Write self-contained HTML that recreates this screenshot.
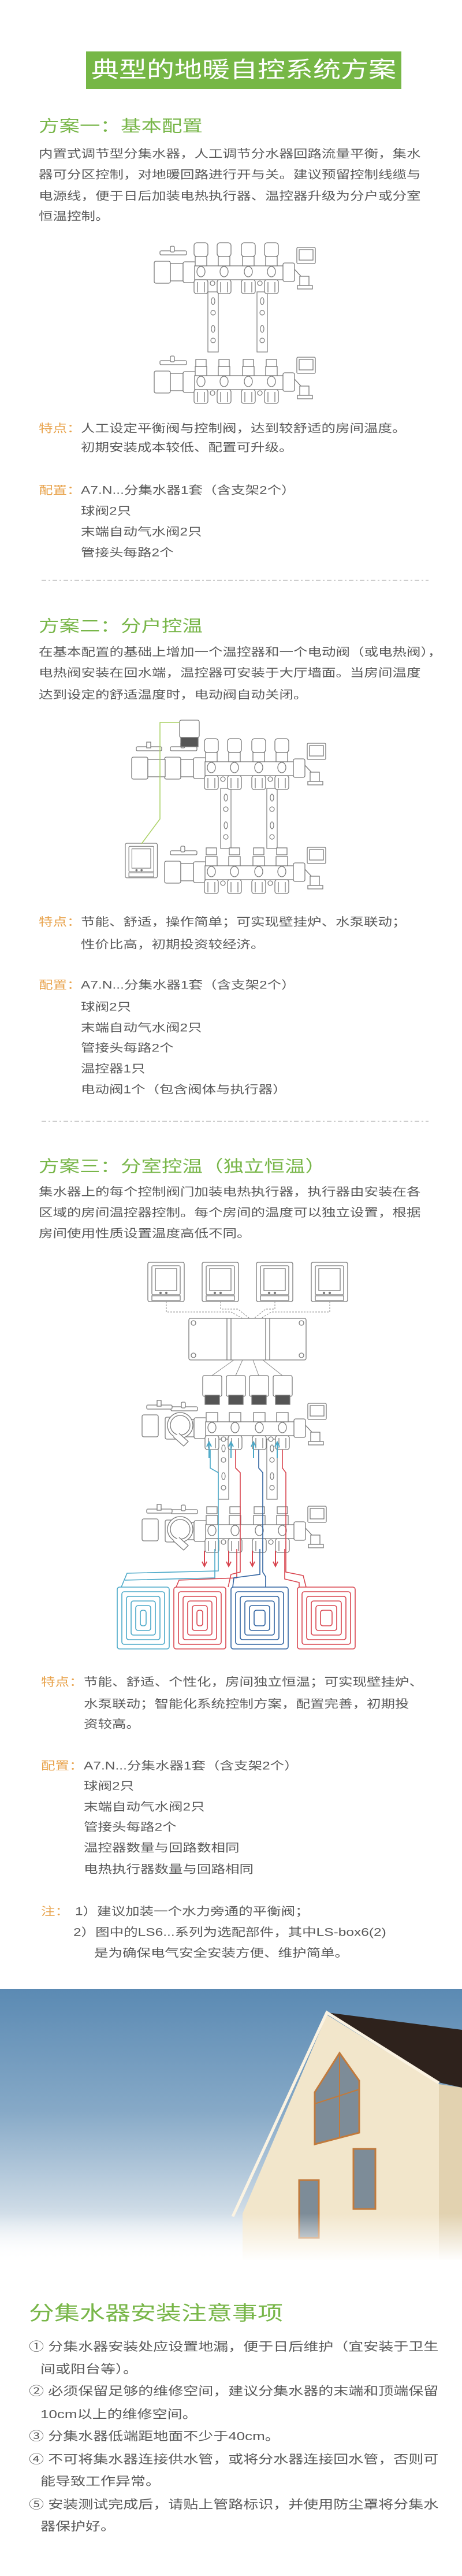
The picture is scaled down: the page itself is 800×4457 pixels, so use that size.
<!DOCTYPE html>
<html><head><meta charset="utf-8"><style>
*{margin:0;padding:0}
body{width:800px;height:4457px;background:#fff;position:relative;overflow:hidden;font-family:"Liberation Sans","Noto Sans CJK SC",sans-serif}
.t{position:absolute;font-size:24.5px;line-height:24px;height:24px;color:#595959;white-space:nowrap;transform:scaleY(.78);transform-origin:0 50%}
.h{position:absolute;font-size:35.5px;line-height:36px;height:36px;color:#78b649;white-space:nowrap;transform:scaleY(.78);transform-origin:0 50%}
.o{color:#e8a24a}
.n{position:absolute;font-size:26px;line-height:26px;height:26px;color:#595959;white-space:nowrap;transform:scaleY(.78);transform-origin:0 50%}
svg{position:absolute;left:0;top:0}
</style></head><body>
<svg width="800" height="4457" viewBox="0 0 800 4457">
<defs>
<g id="mb" fill="#fff" stroke="#7a7a7a" stroke-width="1.3">
 <rect x="10" y="14" width="46" height="7" rx="2"/>
 <rect x="28" y="6" width="7" height="10" rx="2"/>
 <rect x="0" y="32" width="28" height="38" rx="3"/>
 <rect x="28" y="36" width="22" height="30"/>
 <rect x="50" y="33" width="22" height="36" rx="3"/>
 <rect x="70" y="40" width="155" height="24"/>
 <rect x="223" y="35" width="20" height="32" rx="3"/>
 <path d="M243 46 L256 60 L256 74"/>
 <rect x="247" y="8" width="32" height="28" rx="2"/>
 <rect x="251" y="12" width="24" height="18"/>
 <rect x="252" y="58" width="16" height="16"/>
 <rect x="248" y="74" width="26" height="6"/>
 <g id="ol">
  <rect x="71" y="24" width="20" height="16"/>
  <ellipse cx="81" cy="50" rx="7" ry="9"/>
  <rect x="69" y="64" width="24" height="24" rx="4"/>
  <line x1="75" y1="68" x2="75" y2="86"/><line x1="87" y1="68" x2="87" y2="86"/>
 </g>
 <use href="#ol" x="40"/><use href="#ol" x="82"/><use href="#ol" x="122"/>
 <circle cx="101" cy="70" r="4"/><circle cx="183" cy="70" r="4"/>
</g>
<g id="caps" fill="#fff" stroke="#7a7a7a" stroke-width="1.3">
 <rect x="69" y="0" width="24" height="24" rx="5"/><rect x="109" y="0" width="24" height="24" rx="5"/>
 <rect x="151" y="0" width="24" height="24" rx="5"/><rect x="191" y="0" width="24" height="24" rx="5"/>
</g>
<g id="nuts" fill="#fff" stroke="#7a7a7a" stroke-width="1.3">
 <rect x="72" y="12" width="18" height="12"/><rect x="112" y="12" width="18" height="12"/>
 <rect x="154" y="12" width="18" height="12"/><rect x="194" y="12" width="18" height="12"/>
</g>
<g id="th" fill="#fff" stroke="#7a7a7a" stroke-width="1.3">
 <rect x="0" y="0" width="63" height="68" rx="3"/>
 <rect x="7" y="6" width="49" height="50" rx="2"/>
 <rect x="13" y="11" width="37" height="38"/>
 <rect x="7" y="58" width="49" height="8"/>
 <circle cx="22" cy="53" r="1.5" fill="#777"/><circle cx="32" cy="53" r="1.5" fill="#777"/>
</g>
<g id="br" fill="#fff" stroke="#7a7a7a" stroke-width="1.2">
 <rect x="0" y="0" width="18" height="104"/>
 <ellipse cx="9" cy="16" rx="3" ry="6"/><circle cx="9" cy="36" r="4"/>
 <ellipse cx="9" cy="64" rx="3" ry="6"/><circle cx="9" cy="84" r="4"/>
</g>
</defs>
<rect x="149" y="89" width="546" height="65" fill="#76b746"/>

<!-- diagram 1 -->
<use href="#br" x="360" y="505"/><use href="#br" x="445" y="505"/>
<use href="#mb" x="267" y="420"/><use href="#caps" x="267" y="420"/>
<use href="#mb" x="267" y="610"/><use href="#nuts" x="267" y="610"/>

<!-- diagram 2 -->
<use href="#br" x="382" y="1364"/><use href="#br" x="462" y="1364"/>
<use href="#mb" x="285" y="1278"/><use href="#caps" x="285" y="1278"/>
<g fill="#fff" stroke="#7a7a7a" stroke-width="1.3">
 <rect x="236" y="1292" width="44" height="7" rx="2"/><rect x="254" y="1284" width="7" height="10"/>
 <rect x="228" y="1310" width="28" height="38" rx="3"/><rect x="256" y="1314" width="30" height="30"/>
 <rect x="311" y="1246" width="34" height="30" rx="3"/>
 <rect x="313" y="1276" width="30" height="16" fill="#555"/>
</g>
<use href="#mb" x="285" y="1458"/><use href="#nuts" x="285" y="1455"/>
<use href="#th" x="217" y="1459" transform="translate(217,1459) scale(.88) translate(-217,-1459)"/>
<polyline points="245,1460 277,1417 277,1250 311,1250" fill="none" stroke="#a9d062" stroke-width="1.5"/>

<!-- diagram 3 -->
<use href="#th" x="256" y="2184"/><use href="#th" x="350" y="2184"/><use href="#th" x="444" y="2184"/><use href="#th" x="539" y="2184"/>
<g fill="none" stroke="#888" stroke-width="1" stroke-dasharray="3 2">
 <polyline points="288,2252 288,2270 400,2270 420,2281"/>
 <polyline points="382,2252 382,2265 412,2265 432,2281"/>
 <polyline points="476,2252 476,2265 460,2265 440,2281"/>
 <polyline points="571,2252 571,2270 470,2270 452,2281"/>
</g>
<g fill="#fff" stroke="#7a7a7a" stroke-width="1.3">
 <rect x="327" y="2281" width="203" height="72" rx="3"/>
 <line x1="393" y1="2281" x2="393" y2="2353"/><line x1="400" y1="2281" x2="400" y2="2353"/>
 <line x1="460" y1="2281" x2="460" y2="2353"/><line x1="467" y1="2281" x2="467" y2="2353"/>
 <circle cx="335" cy="2289" r="4"/><circle cx="522" cy="2289" r="4"/><circle cx="335" cy="2345" r="4"/><circle cx="522" cy="2345" r="4"/>
</g>
<g stroke="#888" stroke-width="1">
 <line x1="405" y1="2353" x2="367" y2="2380"/><line x1="420" y1="2353" x2="408" y2="2380"/>
 <line x1="438" y1="2353" x2="448" y2="2380"/><line x1="455" y1="2353" x2="489" y2="2380"/>
</g>
<use href="#br" x="378" y="2490"/><use href="#br" x="462" y="2490"/>
<use href="#mb" x="286" y="2420"/>
<g fill="#fff" stroke="#7a7a7a" stroke-width="1.3">
 <rect x="351" y="2380" width="33" height="36" rx="3"/><rect x="392" y="2380" width="33" height="36" rx="3"/>
 <rect x="432" y="2380" width="33" height="36" rx="3"/><rect x="473" y="2380" width="33" height="36" rx="3"/>
 <rect x="355" y="2414" width="25" height="16" fill="#555"/><rect x="396" y="2414" width="25" height="16" fill="#555"/>
 <rect x="436" y="2414" width="25" height="16" fill="#555"/><rect x="477" y="2414" width="25" height="16" fill="#555"/>
 <rect x="254" y="2431" width="44" height="7" rx="2"/><rect x="272" y="2423" width="7" height="10"/>
 <rect x="246" y="2448" width="28" height="38" rx="3"/>
 <circle cx="312" cy="2466" r="22"/><circle cx="312" cy="2466" r="17"/>
 <path d="M300 2486 L318 2502 L326 2494 L310 2480"/>
</g>
<use href="#mb" x="286" y="2598"/><use href="#nuts" x="286" y="2595"/>
<g fill="#fff" stroke="#7a7a7a" stroke-width="1.3">
 <rect x="254" y="2611" width="44" height="7" rx="2"/><rect x="272" y="2603" width="7" height="10"/>
 <rect x="246" y="2628" width="28" height="38" rx="3"/>
 <circle cx="312" cy="2646" r="22"/><circle cx="312" cy="2646" r="17"/>
 <path d="M300 2666 L318 2682 L326 2674 L310 2660"/>
</g>
<!-- pipes -->
<g fill="none" stroke-width="1.6">
 <polyline stroke="#4aa8c8" points="364,2508 364,2540 378,2548 378,2718 220,2722 210,2746"/>
 <polyline stroke="#4aa8c8" points="372,2680 372,2730 216,2734"/>
 <polyline stroke="#d8454f" points="408,2508 408,2540 416,2548 416,2720 400,2724 395,2746"/>
 <polyline stroke="#d8454f" points="410,2680 410,2730 310,2734 305,2746"/>
 <polyline stroke="#2f62a0" points="448,2508 448,2540 455,2548 455,2720 460,2728 460,2746"/>
 <polyline stroke="#2f62a0" points="450,2680 450,2724 405,2730 403,2746"/>
 <polyline stroke="#d8454f" points="489,2508 489,2540 495,2548 495,2720 525,2726 530,2746"/>
 <polyline stroke="#d8454f" points="493,2680 493,2732 518,2738 518,2746"/>
</g>
<g stroke-width="2" fill="none">
 <g stroke="#4aa8c8"><line x1="362" y1="2523" x2="362" y2="2497"/><path d="M358 2503 L362 2495 L366 2503"/>
 <line x1="400" y1="2523" x2="400" y2="2497"/><path d="M396 2503 L400 2495 L404 2503"/>
 <line x1="439" y1="2523" x2="439" y2="2497"/><path d="M435 2503 L439 2495 L443 2503"/>
 <line x1="480" y1="2523" x2="480" y2="2497"/><path d="M476 2503 L480 2495 L484 2503"/></g>
 <g stroke="#d8454f"><line x1="354" y1="2683" x2="354" y2="2708"/><path d="M350 2702 L354 2710 L358 2702"/>
 <line x1="396" y1="2683" x2="396" y2="2708"/><path d="M392 2702 L396 2710 L400 2702"/>
 <line x1="437" y1="2683" x2="437" y2="2708"/><path d="M433 2702 L437 2710 L441 2702"/>
 <line x1="477" y1="2683" x2="477" y2="2708"/><path d="M473 2702 L477 2710 L481 2702"/></g>
</g>
<!-- loops -->
<g fill="none" stroke-width="1.6">
 <g stroke="#4aa8c8"><rect x="203" y="2746" width="90" height="107" rx="4"/><rect x="211" y="2754" width="74" height="91" rx="4"/><rect x="219" y="2762" width="58" height="75" rx="4"/><rect x="227" y="2770" width="42" height="59" rx="4"/><rect x="235" y="2778" width="26" height="43" rx="4"/><rect x="243" y="2786" width="10" height="27" rx="4"/></g>
 <g stroke="#d8454f"><rect x="301" y="2746" width="90" height="107" rx="4"/><rect x="309" y="2754" width="74" height="91" rx="4"/><rect x="317" y="2762" width="58" height="75" rx="4"/><rect x="325" y="2770" width="42" height="59" rx="4"/><rect x="333" y="2778" width="26" height="43" rx="4"/><rect x="341" y="2786" width="10" height="27" rx="4"/></g>
 <g stroke="#2f62a0"><rect x="400" y="2746" width="99" height="107" rx="4"/><rect x="408" y="2754" width="83" height="91" rx="4"/><rect x="416" y="2762" width="67" height="75" rx="4"/><rect x="424" y="2770" width="51" height="59" rx="4"/><rect x="432" y="2778" width="35" height="43" rx="4"/><rect x="440" y="2786" width="19" height="27" rx="4"/></g>
 <g stroke="#d8454f"><rect x="515" y="2746" width="100" height="107" rx="4"/><rect x="523" y="2754" width="84" height="91" rx="4"/><rect x="531" y="2762" width="68" height="75" rx="4"/><rect x="539" y="2770" width="52" height="59" rx="4"/><rect x="547" y="2778" width="36" height="43" rx="4"/><rect x="555" y="2786" width="20" height="27" rx="4"/></g>
</g>

<!-- separators -->
<line x1="72" y1="1004" x2="742" y2="1004" stroke="#bdbdbd" stroke-width="1.5" stroke-dasharray="8 4 3 4"/>
<line x1="72" y1="1940" x2="742" y2="1940" stroke="#bdbdbd" stroke-width="1.5" stroke-dasharray="8 4 3 4"/>

<!-- photo -->
<defs>
<linearGradient id="sky" x1="0" y1="0" x2="0" y2="1">
 <stop offset="0" stop-color="#5b8ab3"/><stop offset=".45" stop-color="#86a9c7"/><stop offset=".8" stop-color="#cbd9e5"/><stop offset="1" stop-color="#ffffff"/>
</linearGradient>
<linearGradient id="fade" x1="0" y1="0" x2="0" y2="1">
 <stop offset="0" stop-color="#fff" stop-opacity="0"/><stop offset="1" stop-color="#fff" stop-opacity="1"/>
</linearGradient>
</defs>
<rect x="0" y="3441" width="800" height="470" fill="url(#sky)"/>
<polygon points="566,3482 800,3512 800,3612 760,3603" fill="#2e221c"/>
<polygon points="566,3486 760,3606 760,3911 420,3911 420,3830" fill="#f2e6cb"/>
<polygon points="760,3606 800,3612 800,3911 760,3911" fill="#e2d2b0"/>
<polyline points="403,3835 566,3482 760,3604" fill="none" stroke="#fbf3e2" stroke-width="5"/>
<g fill="#7d8c98" stroke="#c17a3c" stroke-width="3">
 <polygon points="545,3710 545,3620 588,3552 622,3600 622,3690"/>
 <rect x="612" y="3718" width="38" height="104"/>
 <rect x="518" y="3772" width="34" height="100"/>
</g>
<g stroke="#c17a3c" stroke-width="2"><line x1="588" y1="3552" x2="588" y2="3700"/><line x1="545" y1="3640" x2="622" y2="3615"/></g>
<rect x="0" y="3830" width="800" height="82" fill="url(#fade)"/>
</svg>

<div style="position:absolute;left:149px;top:98px;width:546px;height:48px;line-height:48px;text-align:center;color:#fff;font-size:48px;transform:scaleY(.8);transform-origin:50% 50%;white-space:nowrap">典型的地暖自控系统方案</div>

<div class="h" style="left:67px;top:200px">方案一：基本配置</div>
<div class="t" style="left:67px;top:255px">内置式调节型分集水器，人工调节分水器回路流量平衡，集水</div>
<div class="t" style="left:67px;top:291px">器可分区控制，对地暖回路进行开与关。建议预留控制线缆与</div>
<div class="t" style="left:67px;top:328px">电源线，便于日后加装电热执行器、温控器升级为分户或分室</div>
<div class="t" style="left:67px;top:363px">恒温控制。</div>
<div class="t o" style="left:67px;top:730px">特点：</div>
<div class="t" style="left:140px;top:730px">人工设定平衡阀与控制阀，达到较舒适的房间温度。</div>
<div class="t" style="left:140px;top:763px">初期安装成本较低、配置可升级。</div>
<div class="t o" style="left:67px;top:837px">配置：</div>
<div class="t" style="left:140px;top:837px">A7.N...分集水器1套（含支架2个）</div>
<div class="t" style="left:140px;top:873px">球阀2只</div>
<div class="t" style="left:140px;top:909px">末端自动气水阀2只</div>
<div class="t" style="left:140px;top:945px">管接头每路2个</div>

<div class="h" style="left:67px;top:1065px">方案二：分户控温</div>
<div class="t" style="left:67px;top:1117px">在基本配置的基础上增加一个温控器和一个电动阀（或电热阀），</div>
<div class="t" style="left:67px;top:1153px">电热阀安装在回水端，温控器可安装于大厅墙面。当房间温度</div>
<div class="t" style="left:67px;top:1191px">达到设定的舒适温度时，电动阀自动关闭。</div>
<div class="t o" style="left:67px;top:1584px">特点：</div>
<div class="t" style="left:140px;top:1584px">节能、舒适，操作简单；可实现壁挂炉、水泵联动；</div>
<div class="t" style="left:140px;top:1623px">性价比高，初期投资较经济。</div>
<div class="t o" style="left:67px;top:1693px">配置：</div>
<div class="t" style="left:140px;top:1693px">A7.N...分集水器1套（含支架2个）</div>
<div class="t" style="left:140px;top:1731px">球阀2只</div>
<div class="t" style="left:140px;top:1767px">末端自动气水阀2只</div>
<div class="t" style="left:140px;top:1802px">管接头每路2个</div>
<div class="t" style="left:140px;top:1838px">温控器1只</div>
<div class="t" style="left:140px;top:1874px">电动阀1个（包含阀体与执行器）</div>

<div class="h" style="left:67px;top:2000px">方案三：分室控温（独立恒温）</div>
<div class="t" style="left:67px;top:2051px">集水器上的每个控制阀门加装电热执行器，执行器由安装在各</div>
<div class="t" style="left:67px;top:2087px">区域的房间温控器控制。每个房间的温度可以独立设置，根据</div>
<div class="t" style="left:67px;top:2123px">房间使用性质设置温度高低不同。</div>
<div class="t o" style="left:71px;top:2899px">特点：</div>
<div class="t" style="left:145px;top:2899px">节能、舒适、个性化，房间独立恒温；可实现壁挂炉、</div>
<div class="t" style="left:145px;top:2937px">水泵联动；智能化系统控制方案，配置完善，初期投</div>
<div class="t" style="left:145px;top:2972px">资较高。</div>
<div class="t o" style="left:71px;top:3044px">配置：</div>
<div class="t" style="left:145px;top:3044px">A7.N...分集水器1套（含支架2个）</div>
<div class="t" style="left:145px;top:3079px">球阀2只</div>
<div class="t" style="left:145px;top:3115px">末端自动气水阀2只</div>
<div class="t" style="left:145px;top:3150px">管接头每路2个</div>
<div class="t" style="left:145px;top:3186px">温控器数量与回路数相同</div>
<div class="t" style="left:145px;top:3223px">电热执行器数量与回路相同</div>
<div class="t o" style="left:71px;top:3296px">注：</div>
<div class="t" style="left:130px;top:3296px">1）建议加装一个水力旁通的平衡阀；</div>
<div class="t" style="left:127px;top:3332px">2）图中的LS6...系列为选配部件，其中LS-box6(2)</div>
<div class="t" style="left:163px;top:3368px">是为确保电气安全安装方便、维护简单。</div>

<div class="h" style="left:50px;top:3981px;font-size:44px;line-height:44px;height:44px">分集水器安装注意事项</div>
<div class="n" style="left:50px;top:4047px">① 分集水器安装处应设置地漏，便于日后维护（宜安装于卫生</div>
<div class="n" style="left:70px;top:4086px">间或阳台等）。</div>
<div class="n" style="left:50px;top:4124px">② 必须保留足够的维修空间，建议分集水器的末端和顶端保留</div>
<div class="n" style="left:70px;top:4164px">10cm以上的维修空间。</div>
<div class="n" style="left:50px;top:4202px">③ 分集水器低端距地面不少于40cm。</div>
<div class="n" style="left:50px;top:4242px">④ 不可将集水器连接供水管，或将分水器连接回水管，否则可</div>
<div class="n" style="left:70px;top:4280px">能导致工作异常。</div>
<div class="n" style="left:50px;top:4320px">⑤ 安装测试完成后，请贴上管路标识，并使用防尘罩将分集水</div>
<div class="n" style="left:70px;top:4358px">器保护好。</div>
</body></html>
